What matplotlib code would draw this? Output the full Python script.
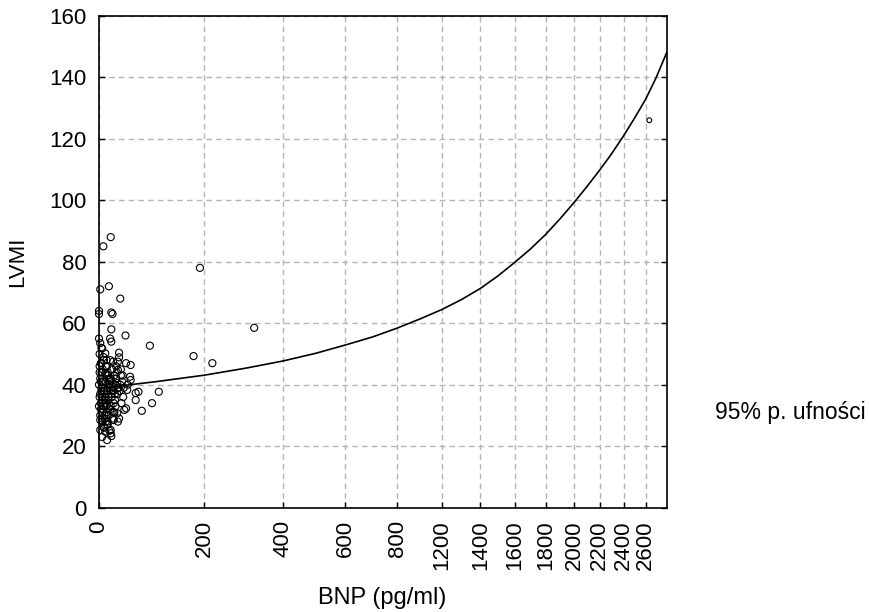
import numpy as np
import matplotlib
matplotlib.use('Agg')
import matplotlib.pyplot as plt

plt.rcParams['font.family'] = ['Liberation Sans', 'DejaVu Sans']

# scatter: BNP (pg/ml) vs LVMI
bnp = [7, 19, 2, 16, 0, 0, 20, 22, 35, 20, 18, 44, 20, 88, 33, 176, 218, 190, 321,
       33, 31, 23, 45, 53, 31, 52, 53, 27, 22, 30, 47, 67, 62, 105, 62, 92, 73, 45,
       42, 30, 22, 24, 31, 19, 19, 20, 13, 10, 8, 5, 2, 2, 11, 16, 13, 10, 22, 16,
       10, 13, 8, 10, 5, 2,
       1, 3, 4, 6, 8, 9, 11, 12, 14, 15, 17, 18, 21, 24, 26,
       1, 2, 4, 5, 7, 9, 12, 14, 17, 19, 23, 25,
       0, 2, 3, 5, 6, 8, 10, 12, 15, 18, 20,
       1, 3, 4, 6, 7, 9, 11, 13, 16, 21, 24,
       0, 2, 4, 5, 7, 8, 10, 12, 14, 17, 19, 22,
       1, 3, 5, 6, 9, 11, 13, 15, 18, 0, 4, 7,
       28, 32, 36, 40, 26, 29, 34, 38, 27, 35, 25, 30, 37, 41, 28, 33, 48, 39, 24, 36]
lvmi = [85, 88, 71, 72, 64, 63, 63.5, 63, 68, 58, 55, 56, 54, 52.7, 50.4, 49.3, 47, 78, 58.5,
        48.9, 47.5, 47.5, 47, 46.4, 44.8, 42.6, 41.5, 39.9, 40.5, 40.5, 38.3, 37.7, 37.3, 37.7, 35, 34, 31.5, 32.3,
        31.8, 30.7, 31.2, 28.5, 28, 25.3, 24.2, 23.3, 22, 24.7, 26.3, 23, 25.3, 28.5, 28, 30.1, 33.4, 36.1, 39.4, 41.5,
        43.7, 45.9, 48, 50.2, 51.8, 53.5,
        50, 47, 44, 41, 38, 35, 33, 30, 27, 36, 39, 42, 45, 34, 37,
        46, 42, 39, 36, 33, 30, 48, 44, 40, 33, 29, 43,
        40, 37, 34, 31, 28, 26, 41, 38, 35, 32, 37,
        44, 41, 38, 35, 32, 29, 46, 43, 40, 36, 31,
        33, 30, 47, 44, 41, 37, 34, 31, 28, 25, 42, 38,
        36, 32, 29, 45, 39, 35, 27, 43, 48, 55, 52, 49,
        42, 39, 43, 36, 35, 44, 38, 41, 33, 40, 31, 37, 34, 39, 46, 29, 40, 43, 38, 45]

# single far outlier (drawn smaller in the original)
bnp_far = [2435]
lvmi_far = [126]

# fitted curve
fit_bnp = [0, 100, 200, 300, 400, 500, 600, 700, 800, 900, 1000, 1100, 1200, 1300, 1400,
           1500, 1600, 1700, 1800, 1900, 2000, 2100, 2200, 2300, 2400, 2500, 2605]
fit_lvmi = [38.8, 41.0, 43.1, 45.4, 47.7, 50.2, 52.9, 55.5, 58.4, 61.4, 64.4, 67.7, 71.3, 75.4, 79.8,
            84.2, 88.9, 94.0, 99.2, 104.5, 109.8, 115.2, 120.9, 126.8, 132.8, 139.8, 148.0]

# tick positions and the labels as printed in the original
x_ticks = [0, 200, 400, 600, 800, 1000, 1200, 1400, 1600, 1800, 2000, 2200, 2400]
x_labels = ['0', '200', '400', '600', '800', '1200', '1400', '1600', '1800', '2000', '2200', '2400', '2600']
y_ticks = [0, 20, 40, 60, 80, 100, 120, 140, 160]

C = 490.0


def fwd(x):
    return np.log1p(np.asarray(x, dtype=float) / C)


def inv(y):
    return C * np.expm1(np.asarray(y, dtype=float))


fig = plt.figure(figsize=(8.7, 6.12), dpi=100)
ax = fig.add_axes([99 / 870, 1 - 507.7 / 612, (666.7 - 99) / 870, (507.7 - 15.7) / 612])
ax.set_xscale('function', functions=(fwd, inv))

ax.plot(fit_bnp, fit_lvmi, color='black', lw=1.2, zorder=3, solid_joinstyle='round')
ax.scatter(bnp, lvmi, s=26, facecolors='none', edgecolors='black', linewidths=0.8, zorder=4, clip_on=False)
ax.scatter(bnp_far, lvmi_far, s=12, facecolors='none', edgecolors='black', linewidths=0.8, zorder=4)

ax.set_xlim(0, 2605)
ax.set_ylim(0, 160)
ax.set_xticks(x_ticks)
ax.set_xticklabels(x_labels, rotation=90)
ax.set_yticks(y_ticks)
ax.minorticks_off()

ax.grid(True, color='#b4b4b4', linestyle=(0, (4, 3)), linewidth=1.0)
ax.set_axisbelow(True)
ax.tick_params(axis='both', direction='in', length=4, width=1, labelsize=16, color='black')
ax.tick_params(axis='x', pad=9)
ax.tick_params(axis='y', pad=9, right=True)
for sp in ax.spines.values():
    sp.set_linewidth(1.2)

fig.text(382 / 870, 1 - 598 / 612, 'BNP (pg/ml)', ha='center', va='center', fontsize=17)
fig.text(18 / 870, 1 - 262 / 612, 'LVMI', ha='center', va='center', rotation=90, fontsize=16)
fig.text(715 / 870, 1 - 413 / 612, '95% p. ufności', ha='left', va='center', fontsize=16.5)

fig.savefig('out.png', dpi=100)
